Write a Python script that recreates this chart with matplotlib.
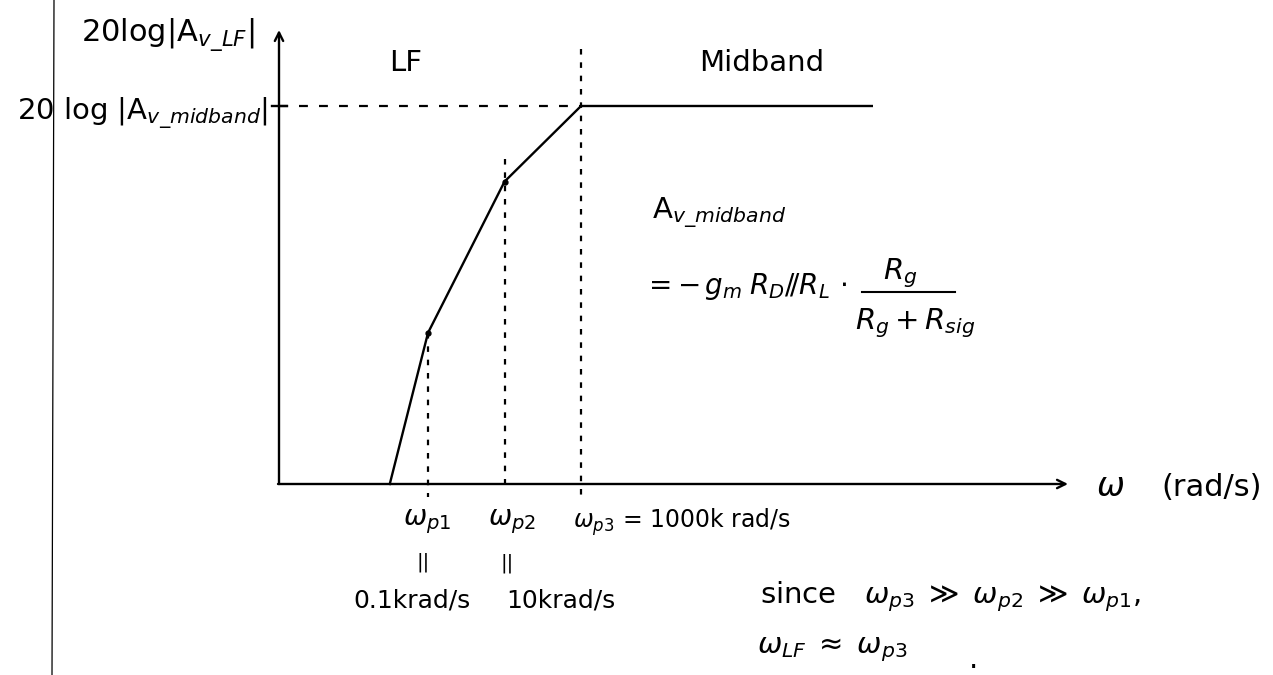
import matplotlib
matplotlib.use("Agg")
import matplotlib.pyplot as plt

W, H = 1273, 675

# sketched low-frequency response: frequency (rad/s) vs gain relative to midband (dB)
omega = [10, 1e2, 1e4, 1e6, 4e13]
gain_db = [-200, -120, -40, 0, 0]

# poles
pole_omega = [1e2, 1e4, 1e6]
pole_gain = [-120, -40, 0]
pole_names = [r"$\omega_{p1}$", r"$\omega_{p2}$", r"$\omega_{p3}$ = 1000k rad/s"]
pole_values = ["0.1krad/s", "10krad/s"]

fig = plt.figure(figsize=(W / 100, H / 100), dpi=100)
ax = fig.add_axes([0, 0, 1, 1])
ax.set_xscale("log")
ax.set_xlim(10 ** (-12.19 + 3), 10 ** (21.09 + 3))
ax.set_ylim(-301.06, 56.08)
ax.axis("off")

lw = 1.7
fs = 20


def px(x, y):
    # figure pixels measured from the top-left corner
    return (x, H - y)


def txt(x, y, s, size=fs, **kw):
    kw.setdefault("ha", "center")
    kw.setdefault("va", "center")
    ax.annotate(s, xy=px(x, y), xycoords="figure pixels", fontsize=size, **kw)


def seg(x0, y0, x1, y1, **kw):
    ax.plot([x0 / W, x1 / W], [1 - y0 / H, 1 - y1 / H], transform=ax.transAxes, color="k", **kw)


# margin line of the paper
seg(54, 0, 52, H, lw=0.9)

# axes with arrows
arrow = dict(arrowstyle="->,head_length=0.6,head_width=0.3", lw=lw, color="k",
             shrinkA=0, shrinkB=0)
ax.annotate("", xy=px(279, 30), xytext=px(279, 484), xycoords="figure pixels",
            textcoords="figure pixels", arrowprops=arrow)
ax.annotate("", xy=px(1068, 484), xytext=px(278, 484), xycoords="figure pixels",
            textcoords="figure pixels", arrowprops=arrow)
seg(272, 106, 287, 106, lw=lw)

# response curve
ax.plot(omega, gain_db, color="k", lw=lw, solid_joinstyle="round")
ax.plot(pole_omega[:2], pole_gain[:2], "o", color="k", ms=3.5)

# dashed guides
hdash = dict(color="k", lw=1.6, linestyle=(0, (4, 5)))
vdash = dict(color="k", lw=1.6, linestyle=(0, (2.5, 3.5)))
ax.plot([1.3e-2, pole_omega[2]], [0, 0], **hdash)
ax.plot([pole_omega[0]] * 2, [pole_gain[0], -207], **vdash)
ax.plot([pole_omega[1]] * 2, [pole_gain[1] + 12, -200], **vdash)
ax.plot([pole_omega[2]] * 2, [pole_gain[2] + 30, -209], **vdash)

# labels
txt(168, 35, r"20log|A$_{v\_LF}$|", size=22)
txt(268, 113, r"20 log |A$_{v\_midband}$|", size=21, ha="right")
txt(406, 63, "LF", size=21)
txt(762, 63, "Midband", size=21)
txt(652, 213, r"A$_{v\_midband}$", ha="left", size=21)
txt(643, 287, r"$=-\,g_m\;R_D /\!/ R_L\,\cdot$", size=20, ha="left")
seg(862, 292, 955, 292, lw=1.5)
txt(900, 273, r"$R_g$", size=21)
txt(915, 323, r"$R_g + R_{sig}$", size=21)

txt(1110, 486, r"$\omega$", size=24)
txt(1212, 488, "(rad/s)", size=22)

txt(427, 522, pole_names[0], size=20)
txt(512, 522, pole_names[1], size=20)
txt(573, 522, pole_names[2], ha="left", size=17)
txt(423, 562, "||", size=14)
txt(507, 563, "||", size=14)
txt(412, 600, pole_values[0], size=18)
txt(561, 600, pole_values[1], size=18)

txt(760, 597, r"since$\quad\omega_{p3} \;\gg\; \omega_{p2} \;\gg\; \omega_{p1}$,", ha="left", size=21)
txt(757, 650, r"$\omega_{LF} \;\approx\; \omega_{p3}$", ha="left", size=21)
txt(973, 660, ".", size=21)

fig.savefig("out.png", dpi=100)
